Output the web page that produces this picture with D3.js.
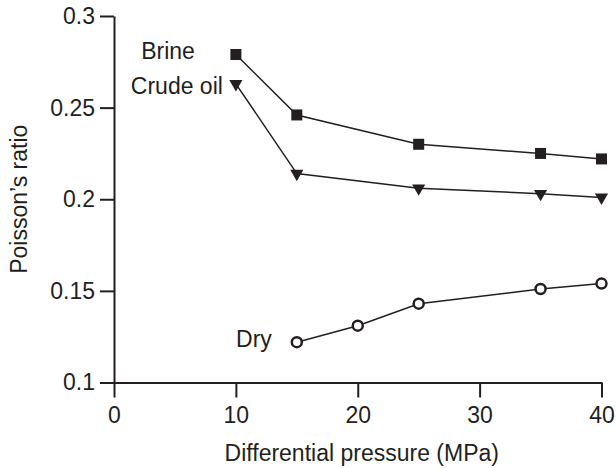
<!DOCTYPE html>
<html>
<head>
<meta charset="utf-8">
<script src="https://cdn.jsdelivr.net/npm/d3@7"></script>
<style>
  html, body { margin: 0; padding: 0; background: #fff; }
  svg text { font-family: "Liberation Sans", Arial, Helvetica, sans-serif; fill: #231f20; }
</style>
</head>
<body>
<svg id="chart" width="616" height="468"></svg>
<script>
// Poisson's ratio versus differential pressure for three saturation states
const pressureWet = [10, 15, 25, 35, 40];
const brineValues = [0.279, 0.246, 0.230, 0.225, 0.222];
const crudeOilValues = [0.263, 0.214, 0.206, 0.203, 0.201];
const pressureDry = [15, 20, 25, 35, 40];
const dryValues = [0.122, 0.131, 0.143, 0.151, 0.154];
const xTicks = [0, 10, 20, 30, 40];
const yTicks = [0.1, 0.15, 0.2, 0.25, 0.3];
const seriesNames = ["Brine", "Crude oil", "Dry"];

const ink = "#231f20";
const fontSize = 23;

const svg = d3.select("#chart");
const x = d3.scaleLinear().domain([0, 40]).range([114, 601.5]);
const y = d3.scaleLinear().domain([0.1, 0.3]).range([382.5, 16]);

// axes
const xAxis = d3.axisBottom(x).tickValues(xTicks).tickSize(15).tickSizeOuter(0)
  .tickPadding(9).tickFormat(d3.format("d"));
const yAxis = d3.axisLeft(y).tickValues(yTicks).tickSize(14).tickSizeOuter(0)
  .tickPadding(5).tickFormat(d => String(+d.toFixed(2)));

const gx = svg.append("g").attr("transform", `translate(0,${y(0.1)})`).call(xAxis);
const gy = svg.append("g").attr("transform", `translate(${x(0)},0)`).call(yAxis);
[gx, gy].forEach(g => {
  g.select(".domain").attr("stroke", ink).attr("stroke-width", 2);
  g.selectAll(".tick line").attr("stroke", ink).attr("stroke-width", 2);
  g.selectAll(".tick text").attr("font-size", fontSize).attr("font-family", null).attr("fill", ink);
});

// axis titles
svg.append("text")
  .attr("x", (x(0) + x(40)) / 2 + 4)
  .attr("y", 461)
  .attr("text-anchor", "middle")
  .attr("font-size", fontSize)
  .text("Differential pressure (MPa)");
svg.append("text")
  .attr("transform", `translate(27,${(y(0.1) + y(0.3)) / 2}) rotate(-90)`)
  .attr("text-anchor", "middle")
  .attr("font-size", fontSize)
  .text("Poisson\u2019s ratio");

const line = d3.line().x(d => x(d[0])).y(d => y(d[1]));
const zip = (xs, ys) => xs.map((v, i) => [v, ys[i]]);

const brine = zip(pressureWet, brineValues);
const crude = zip(pressureWet, crudeOilValues);
const dry = zip(pressureDry, dryValues);

[brine, crude, dry].forEach(pts => {
  svg.append("path").datum(pts).attr("d", line)
    .attr("fill", "none").attr("stroke", ink).attr("stroke-width", 1.5);
});

// markers
svg.append("g").selectAll("rect").data(brine).join("rect")
  .attr("x", d => x(d[0]) - 5.5).attr("y", d => y(d[1]) - 5.5)
  .attr("width", 11).attr("height", 11).attr("fill", ink);

const tri = d3.symbol().type(d3.symbolTriangle).size(75);
svg.append("g").selectAll("path").data(crude).join("path")
  .attr("d", tri)
  .attr("transform", d => `translate(${x(d[0])},${y(d[1])}) rotate(180)`)
  .attr("fill", ink);

svg.append("g").selectAll("circle").data(dry).join("circle")
  .attr("cx", d => x(d[0])).attr("cy", d => y(d[1])).attr("r", 5)
  .attr("fill", "#fff").attr("stroke", ink).attr("stroke-width", 2.5);

// series labels next to first points
const labels = [
  { name: seriesNames[0], pt: brine[0], dx: -41, dy: 5 },
  { name: seriesNames[1], pt: crude[0], dx: -13, dy: 10 },
  { name: seriesNames[2], pt: dry[0], dx: -25, dy: 5 }
];
svg.append("g").selectAll("text").data(labels).join("text")
  .attr("x", d => x(d.pt[0]) + d.dx)
  .attr("y", d => y(d.pt[1]) + d.dy)
  .attr("text-anchor", "end")
  .attr("font-size", fontSize)
  .text(d => d.name);
</script>
</body>
</html>
